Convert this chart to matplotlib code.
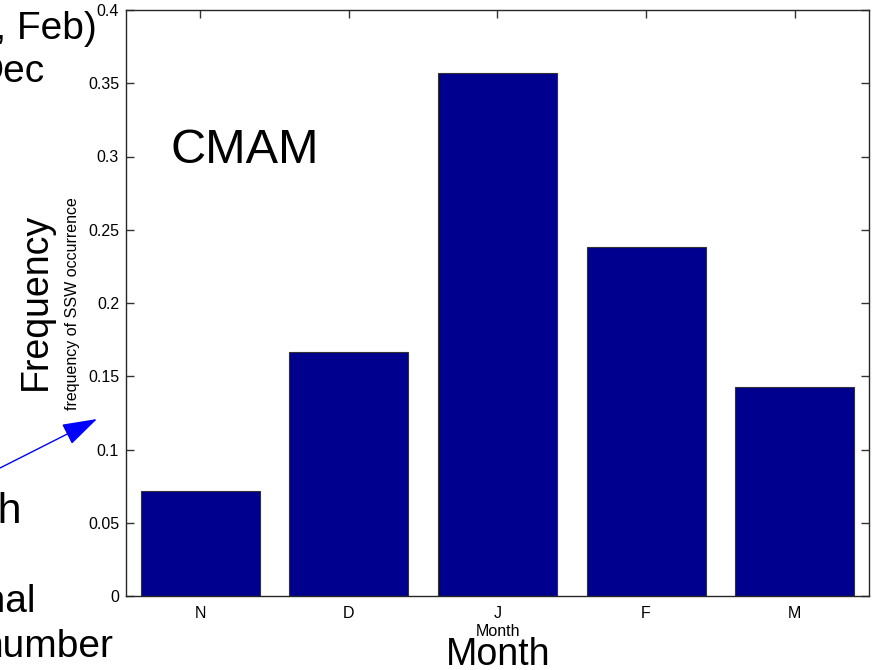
import numpy as np
import matplotlib
matplotlib.use('Agg')
import matplotlib.pyplot as plt

plt.rcParams['font.family'] = ['Liberation Sans', 'DejaVu Sans']

# Monthly frequency of SSW occurrence in CMAM
months = ['N', 'D', 'J', 'F', 'M']
freq = [0.0714, 0.1667, 0.3571, 0.2381, 0.1429]
yticks = [0, 0.05, 0.1, 0.15, 0.2, 0.25, 0.3, 0.35, 0.4]
ytick_labels = ['0', '0.05', '0.1', '0.15', '0.2', '0.25', '0.3', '0.35', '0.4']

W, H = 883, 670
fig = plt.figure(figsize=(W / 100, H / 100), dpi=100)
ax = fig.add_axes([126 / W, 1 - 596 / H, 743 / W, 586 / H])

x = np.arange(1, len(months) + 1)
ax.bar(x, freq, width=0.8, color='#00008F', edgecolor='#333333', linewidth=0.8)

ax.set_xlim(0.5, 5.5)
ax.set_ylim(0, 0.4)
ax.set_xticks(x)
ax.set_xticklabels(months)
ax.set_yticks(yticks)
ax.set_yticklabels(ytick_labels)
ax.set_axisbelow(True)
ax.tick_params(direction='in', length=5.5, width=1, color='#333333',
               top=True, right=True, labelsize=11.5)
ax.tick_params(axis='x', pad=7)
ax.tick_params(axis='y', pad=5)
for s in ax.spines.values():
    s.set_color('#262626')
    s.set_linewidth(1)

# small axis labels
fig.text(72 / W, 1 - 304 / H, 'frequency of SSW occurrence', rotation=90,
         ha='center', va='center', fontsize=11.5)
fig.text(498 / W, 1 - 632 / H, 'Month', ha='center', va='center', fontsize=11.5)

# large overlay labels
fig.text(244.5 / W, 1 - 163 / H, 'CMAM', ha='center', va='baseline', fontsize=35)
fig.text(36 / W, 1 - 301 / H, 'Frequency', rotation=90, ha='center', va='center',
         fontsize=27)
fig.text(498 / W, 1 - 665 / H, 'Month', ha='center', va='baseline', fontsize=27)

# side notes running off the left edge
fig.text(97 / W, 1 - 39 / H, '(Nov, Dec, Jan, Feb)', ha='right', va='baseline', fontsize=28)
fig.text(45 / W, 1 - 82 / H, 'Dec', ha='right', va='baseline', fontsize=28)
fig.text(22 / W, 1 - 523 / H, 'month', ha='right', va='baseline', fontsize=31)
fig.text(36 / W, 1 - 612 / H, 'seasonal', ha='right', va='baseline', fontsize=28)
fig.text(113 / W, 1 - 657 / H, 'number', ha='right', va='baseline', fontsize=28)

ax.annotate('', xy=(97 / W, 1 - 419 / H), xytext=(0, 1 - 468 / H),
            xycoords='figure fraction', textcoords='figure fraction',
            arrowprops=dict(arrowstyle='-|>,head_length=22,head_width=7',
                            mutation_scale=1, color='#0000FF', lw=1,
                            shrinkA=0, shrinkB=0))

fig.savefig('out.png', dpi=100)
